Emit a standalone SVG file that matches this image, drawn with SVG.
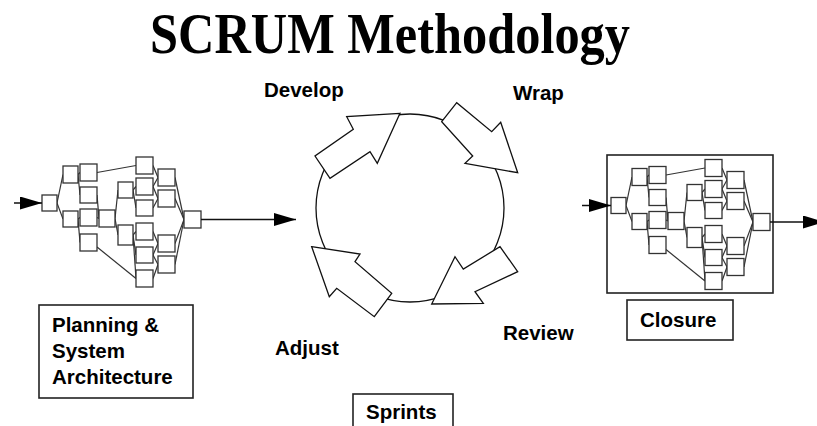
<svg xmlns="http://www.w3.org/2000/svg" xmlns:xlink="http://www.w3.org/1999/xlink" width="817" height="426" viewBox="0 0 817 426">
<style>
.bx{fill:#fff;stroke:#333;stroke-width:1.3}
.ln{stroke:#333;stroke-width:1.2;fill:none}
.frame{fill:#fff;stroke:#222;stroke-width:1.6}
.lbl{font-family:"Liberation Sans",Arial,sans-serif;font-weight:bold;font-size:20.5px;fill:#000}
.title{font-family:"Liberation Serif","Times New Roman",serif;font-weight:bold;font-size:57px;fill:#000}
.blk{fill:#fff;stroke:#111;stroke-width:1.3;stroke-linejoin:miter}
.arr{stroke:#111;stroke-width:1.5;fill:none}
</style>
<defs>
<marker id="ah" markerUnits="userSpaceOnUse" markerWidth="22" markerHeight="13" refX="22" refY="6.5" orient="auto">
<path d="M0,0 L22,6.5 L0,13 Z" fill="#000"/>
</marker>
<g id="net">
<g class="ln">
<line x1="57" y1="203" x2="63" y2="174.5"/><line x1="57" y1="203" x2="63" y2="219"/>
<line x1="78" y1="174.5" x2="80" y2="172.5"/><line x1="78" y1="174.5" x2="80" y2="195"/>
<line x1="78" y1="219" x2="80" y2="217.5"/><line x1="78" y1="219" x2="80" y2="242.5"/>
<line x1="97" y1="172.5" x2="136" y2="165.5"/>
<line x1="97" y1="195" x2="99" y2="218.5"/><line x1="97" y1="217.5" x2="99" y2="218.5"/>
<line x1="97" y1="247" x2="136" y2="278.5"/>
<line x1="115" y1="218.5" x2="118" y2="190"/><line x1="115" y1="218.5" x2="118" y2="235"/>
<line x1="133" y1="190" x2="136" y2="186.5"/><line x1="133" y1="190" x2="136" y2="208"/>
<line x1="133" y1="235" x2="136" y2="231.5"/><line x1="133" y1="235" x2="136" y2="255"/><line x1="133" y1="235" x2="136" y2="278.5"/>
<line x1="153" y1="165.5" x2="158" y2="177.5"/>
<line x1="153" y1="186.5" x2="158" y2="177.5"/><line x1="153" y1="186.5" x2="158" y2="198.5"/>
<line x1="153" y1="208" x2="158" y2="198.5"/>
<line x1="153" y1="231.5" x2="158" y2="243.5"/>
<line x1="153" y1="255" x2="158" y2="243.5"/><line x1="153" y1="255" x2="158" y2="264.5"/>
<line x1="153" y1="278.5" x2="158" y2="264.5"/>
<line x1="175" y1="177.5" x2="184" y2="219.5"/><line x1="175" y1="198.5" x2="184" y2="219.5"/>
<line x1="175" y1="243.5" x2="184" y2="219.5"/><line x1="175" y1="264.5" x2="184" y2="219.5"/>
</g>
<rect class="bx" x="42" y="195" width="15" height="16"/>
<rect class="bx" x="63" y="166" width="15" height="17"/>
<rect class="bx" x="63" y="211" width="15" height="16"/>
<rect class="bx" x="80" y="164" width="17" height="17"/>
<rect class="bx" x="80" y="187" width="17" height="16"/>
<rect class="bx" x="80" y="209" width="17" height="17"/>
<rect class="bx" x="80" y="234" width="17" height="17"/>
<rect class="bx" x="99" y="210" width="16" height="17"/>
<rect class="bx" x="136" y="157" width="17" height="17"/>
<rect class="bx" x="118" y="182" width="15" height="16"/>
<rect class="bx" x="118" y="225" width="15" height="20"/>
<rect class="bx" x="136" y="178" width="17" height="17"/>
<rect class="bx" x="136" y="200" width="17" height="16"/>
<rect class="bx" x="136" y="223" width="17" height="17"/>
<rect class="bx" x="136" y="247" width="17" height="16"/>
<rect class="bx" x="136" y="270" width="17" height="17"/>
<rect class="bx" x="158" y="169" width="17" height="17"/>
<rect class="bx" x="158" y="190" width="17" height="17"/>
<rect class="bx" x="158" y="235" width="17" height="17"/>
<rect class="bx" x="158" y="256" width="17" height="17"/>
<rect class="bx" x="184" y="211" width="17" height="17"/>
</g>
</defs>

<text class="title" x="390" y="53" text-anchor="middle" textLength="480" lengthAdjust="spacingAndGlyphs">SCRUM Methodology</text>

<g id="planning">
<use href="#net" xlink:href="#net"/>
<rect class="frame" x="39" y="305" width="154" height="93"/>
<text class="lbl" x="52" y="332">Planning &amp;</text>
<text class="lbl" x="52" y="358">System</text>
<text class="lbl" x="52" y="384">Architecture</text>
</g>

<g id="sprint-cycle">
<circle cx="410" cy="208" r="94" fill="none" stroke="#111" stroke-width="1.3"/>
<g id="develop">
<polygon class="blk" points="400,113.3 346.7,116.7 353.3,129.3 315,156 330,178.3 370,151.7 377.3,163.3"/>
<text class="lbl" x="264" y="97">Develop</text>
</g>
<g id="wrap">
<polygon class="blk" points="441.7,121.7 456.7,102.7 491.7,131.7 500.7,122.3 517.7,172.7 465,163.3 472.7,156"/>
<text class="lbl" x="513" y="100">Wrap</text>
</g>
<g id="review">
<polygon class="blk" points="500,246.7 517.7,271.7 475,291.7 483.3,303.3 431.7,304 455,256.7 463.3,269"/>
<text class="lbl" x="503" y="340">Review</text>
</g>
<g id="adjust">
<polygon class="blk" points="311.7,246.7 360,254 355,261.7 391.7,293.3 374.3,316.7 336.7,288.3 329.3,296.7"/>
<text class="lbl" x="275" y="355">Adjust</text>
</g>
</g>

<g id="sprints">
<rect class="frame" x="353" y="394" width="100" height="40"/>
<text class="lbl" x="366" y="419">Sprints</text>
</g>

<g id="closure">
<rect class="frame" x="607" y="155" width="166" height="138"/>
<use href="#net" xlink:href="#net" transform="translate(569,2.5)"/>
<rect class="frame" x="627" y="300" width="106" height="40"/>
<text class="lbl" x="640" y="327">Closure</text>
</g>

<g id="connectors">
<line class="arr" x1="14" y1="203" x2="42" y2="203" marker-end="url(#ah)"/>
<line class="arr" x1="201" y1="219.5" x2="296" y2="219.5" marker-end="url(#ah)"/>
<line class="arr" x1="582" y1="205.5" x2="611" y2="205.5" marker-end="url(#ah)"/>
<line class="arr" x1="770" y1="222" x2="825" y2="222" marker-end="url(#ah)"/>
</g>
</svg>
